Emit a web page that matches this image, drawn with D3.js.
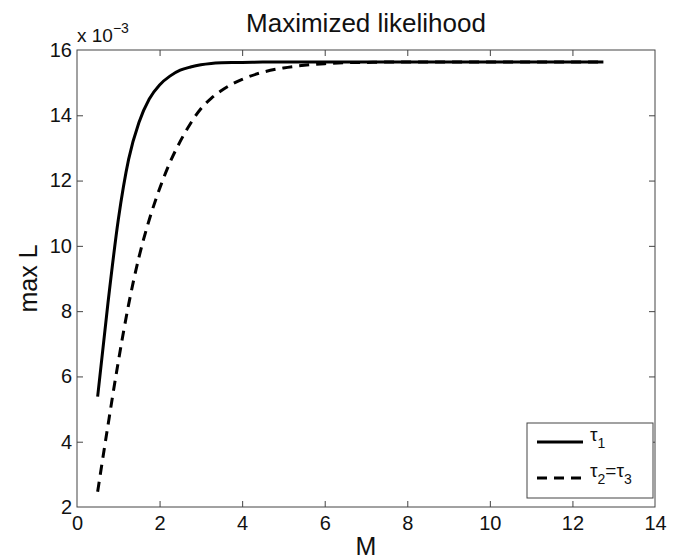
<!DOCTYPE html>
<html>
<head>
<meta charset="utf-8">
<script src="https://cdn.jsdelivr.net/npm/d3@7"></script>
<style>
  body { margin: 0; background: #fff; }
  text { font-family: "Liberation Sans", Arial, Helvetica, sans-serif; fill: #111; }
</style>
</head>
<body>
<div id="chart"></div>
<script>
const width = 680;
const height = 559;
const margin = {top: 50, right: 25, bottom: 52, left: 77};

// M values shared by both series
const mValues = [0.5, 0.75, 1, 1.25, 1.5, 1.75, 2, 2.25, 2.5, 2.75, 3, 3.25, 3.5, 3.75, 4,
    4.5, 5, 5.5, 6, 6.5, 7, 7.5, 8, 9, 10, 11, 12, 12.75];

// max L (x 10^-3) for tau_1
const tau1 = [5.38, 8.25, 10.8, 12.65, 13.78, 14.5, 14.93, 15.2, 15.38, 15.48, 15.55, 15.59, 15.61, 15.62, 15.62,
    15.63, 15.63, 15.63, 15.63, 15.63, 15.63, 15.63, 15.63, 15.63, 15.63, 15.63, 15.63, 15.63];

// max L (x 10^-3) for tau_2 = tau_3
const tau23 = [2.47, 4.5, 6.45, 8.2, 9.65, 10.8, 11.75, 12.55, 13.2, 13.75, 14.2, 14.52, 14.76, 14.95, 15.1,
    15.32, 15.45, 15.53, 15.58, 15.61, 15.62, 15.63, 15.63, 15.63, 15.63, 15.63, 15.63, 15.63];

const xTicks = [0, 2, 4, 6, 8, 10, 12, 14];
const yTicks = [2, 4, 6, 8, 10, 12, 14, 16];

const svg = d3.select("#chart")
    .append("svg")
    .attr("width", width)
    .attr("height", height);

const x = d3.scaleLinear()
    .domain([0, 14])
    .range([margin.left, width - margin.right]);

const y = d3.scaleLinear()
    .domain([2, 16])
    .range([height - margin.bottom, margin.top]);

const axisColor = "#444";

// Box
svg.append("rect")
    .attr("x", x(0))
    .attr("y", y(16))
    .attr("width", x(14) - x(0))
    .attr("height", y(2) - y(16))
    .attr("fill", "none")
    .attr("stroke", axisColor)
    .attr("stroke-width", 1);

// Inward ticks on all four sides, MATLAB style
const tickLen = 6;
const axisStyle = g => {
    g.select(".domain").remove();
    g.selectAll(".tick line").attr("stroke", axisColor);
    g.selectAll(".tick text").style("font-size", "20px").attr("fill", "#111");
};

svg.append("g")
    .attr("transform", `translate(0,${y(2)})`)
    .call(d3.axisBottom(x).tickValues(xTicks).tickSize(-tickLen).tickPadding(9))
    .call(axisStyle)
    .call(g => g.selectAll(".tick line").filter(d => d === 0 || d === 14).remove());

svg.append("g")
    .attr("transform", `translate(0,${y(16)})`)
    .call(d3.axisTop(x).tickValues(xTicks).tickSize(-tickLen).tickFormat(""))
    .call(axisStyle)
    .call(g => g.selectAll(".tick line").filter(d => d === 0 || d === 14).remove());

svg.append("g")
    .attr("transform", `translate(${x(0)},0)`)
    .call(d3.axisLeft(y).tickValues(yTicks).tickSize(-tickLen).tickPadding(5))
    .call(axisStyle)
    .call(g => g.selectAll(".tick line").filter(d => d === 2 || d === 16).remove());

svg.append("g")
    .attr("transform", `translate(${x(14)},0)`)
    .call(d3.axisRight(y).tickValues(yTicks).tickSize(-tickLen).tickFormat(""))
    .call(axisStyle)
    .call(g => g.selectAll(".tick line").filter(d => d === 2 || d === 16).remove());

// Exponent label
const expo = svg.append("text")
    .attr("x", x(0))
    .attr("y", y(16) - 8)
    .style("font-size", "19px");
expo.append("tspan").text("x 10");
expo.append("tspan").attr("dy", -9).style("font-size", "14px").text("\u22123");

// Lines
const line = d3.line()
    .x((d, i) => x(mValues[i]))
    .y(d => y(d))
    .curve(d3.curveMonotoneX);

svg.append("path")
    .datum(tau1)
    .attr("d", line)
    .attr("fill", "none")
    .attr("stroke", "#000")
    .attr("stroke-width", 3)
    .attr("stroke-linejoin", "round");

svg.append("path")
    .datum(tau23)
    .attr("d", line)
    .attr("fill", "none")
    .attr("stroke", "#000")
    .attr("stroke-width", 3)
    .attr("stroke-dasharray", "10,7");

// Title and axis labels
svg.append("text")
    .attr("x", (x(0) + x(14)) / 2)
    .attr("y", 32)
    .attr("text-anchor", "middle")
    .style("font-size", "26px")
    .text("Maximized likelihood");

svg.append("text")
    .attr("x", (x(0) + x(14)) / 2)
    .attr("y", 555)
    .attr("text-anchor", "middle")
    .style("font-size", "25px")
    .text("M");

svg.append("text")
    .attr("transform", `translate(37,${(y(2) + y(16)) / 2}) rotate(-90)`)
    .attr("text-anchor", "middle")
    .style("font-size", "25px")
    .text("max L");

// Legend
const legend = svg.append("g").attr("transform", "translate(527,423)");
legend.append("rect")
    .attr("width", 126)
    .attr("height", 75)
    .attr("fill", "#fff")
    .attr("stroke", axisColor)
    .attr("stroke-width", 1);

const legendItems = [
    {dash: null, y: 19, main: "\u03c4", sub: "1", rest: []},
    {dash: "10,7", y: 55, main: "\u03c4", sub: "2", rest: ["=\u03c4", "3"]}
];

legendItems.forEach(item => {
    legend.append("line")
        .attr("x1", 10).attr("x2", 56)
        .attr("y1", item.y).attr("y2", item.y)
        .attr("stroke", "#000")
        .attr("stroke-width", 3)
        .attr("stroke-dasharray", item.dash);
    const t = legend.append("text")
        .attr("x", 63)
        .attr("y", item.y - 1)
        .style("font-size", "19px");
    t.append("tspan").text(item.main);
    t.append("tspan").attr("dy", 7).style("font-size", "14px").text(item.sub);
    if (item.rest.length) {
        t.append("tspan").attr("dy", -7).text(item.rest[0]);
        t.append("tspan").attr("dy", 7).style("font-size", "14px").text(item.rest[1]);
    }
});
</script>
</body>
</html>
